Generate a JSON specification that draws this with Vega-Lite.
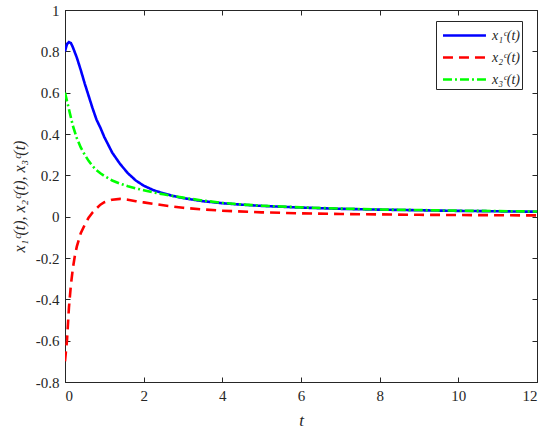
{
  "$schema": "https://vega.github.io/schema/vega-lite/v6.json",
  "width": 472,
  "height": 372,
  "autosize": {"type": "none"},
  "padding": {"left": 65, "top": 10, "right": 13, "bottom": 48},
  "background": "white",
  "data": {
    "values": [
      {"t": 0, "v": 0.8, "s": "x₁ᶜ(t)"},
      {"t": 0.05, "v": 0.835, "s": "x₁ᶜ(t)"},
      {"t": 0.1, "v": 0.845, "s": "x₁ᶜ(t)"},
      {"t": 0.15, "v": 0.84, "s": "x₁ᶜ(t)"},
      {"t": 0.2, "v": 0.82, "s": "x₁ᶜ(t)"},
      {"t": 0.3, "v": 0.77, "s": "x₁ᶜ(t)"},
      {"t": 0.4, "v": 0.71, "s": "x₁ᶜ(t)"},
      {"t": 0.5, "v": 0.645, "s": "x₁ᶜ(t)"},
      {"t": 0.6, "v": 0.585, "s": "x₁ᶜ(t)"},
      {"t": 0.7, "v": 0.525, "s": "x₁ᶜ(t)"},
      {"t": 0.8, "v": 0.47, "s": "x₁ᶜ(t)"},
      {"t": 0.9, "v": 0.43, "s": "x₁ᶜ(t)"},
      {"t": 1.0, "v": 0.385, "s": "x₁ᶜ(t)"},
      {"t": 1.2, "v": 0.31, "s": "x₁ᶜ(t)"},
      {"t": 1.4, "v": 0.255, "s": "x₁ᶜ(t)"},
      {"t": 1.6, "v": 0.21, "s": "x₁ᶜ(t)"},
      {"t": 1.8, "v": 0.175, "s": "x₁ᶜ(t)"},
      {"t": 2.0, "v": 0.15, "s": "x₁ᶜ(t)"},
      {"t": 2.25, "v": 0.128, "s": "x₁ᶜ(t)"},
      {"t": 2.5, "v": 0.113, "s": "x₁ᶜ(t)"},
      {"t": 2.75, "v": 0.1, "s": "x₁ᶜ(t)"},
      {"t": 3, "v": 0.09, "s": "x₁ᶜ(t)"},
      {"t": 3.5, "v": 0.075, "s": "x₁ᶜ(t)"},
      {"t": 4, "v": 0.065, "s": "x₁ᶜ(t)"},
      {"t": 4.5, "v": 0.058, "s": "x₁ᶜ(t)"},
      {"t": 5, "v": 0.052, "s": "x₁ᶜ(t)"},
      {"t": 6, "v": 0.044, "s": "x₁ᶜ(t)"},
      {"t": 7, "v": 0.038, "s": "x₁ᶜ(t)"},
      {"t": 8, "v": 0.034, "s": "x₁ᶜ(t)"},
      {"t": 9, "v": 0.031, "s": "x₁ᶜ(t)"},
      {"t": 10, "v": 0.028, "s": "x₁ᶜ(t)"},
      {"t": 11, "v": 0.026, "s": "x₁ᶜ(t)"},
      {"t": 12, "v": 0.024, "s": "x₁ᶜ(t)"},
      {"t": 0, "v": -0.7, "s": "x₂ᶜ(t)"},
      {"t": 0.05, "v": -0.6, "s": "x₂ᶜ(t)"},
      {"t": 0.1, "v": -0.44, "s": "x₂ᶜ(t)"},
      {"t": 0.15, "v": -0.33, "s": "x₂ᶜ(t)"},
      {"t": 0.2, "v": -0.25, "s": "x₂ᶜ(t)"},
      {"t": 0.25, "v": -0.19, "s": "x₂ᶜ(t)"},
      {"t": 0.3, "v": -0.145, "s": "x₂ᶜ(t)"},
      {"t": 0.4, "v": -0.08, "s": "x₂ᶜ(t)"},
      {"t": 0.5, "v": -0.04, "s": "x₂ᶜ(t)"},
      {"t": 0.6, "v": -0.005, "s": "x₂ᶜ(t)"},
      {"t": 0.7, "v": 0.02, "s": "x₂ᶜ(t)"},
      {"t": 0.8, "v": 0.04, "s": "x₂ᶜ(t)"},
      {"t": 0.9, "v": 0.058, "s": "x₂ᶜ(t)"},
      {"t": 1.0, "v": 0.07, "s": "x₂ᶜ(t)"},
      {"t": 1.2, "v": 0.082, "s": "x₂ᶜ(t)"},
      {"t": 1.4, "v": 0.086, "s": "x₂ᶜ(t)"},
      {"t": 1.6, "v": 0.082, "s": "x₂ᶜ(t)"},
      {"t": 1.8, "v": 0.075, "s": "x₂ᶜ(t)"},
      {"t": 2.0, "v": 0.069, "s": "x₂ᶜ(t)"},
      {"t": 2.5, "v": 0.055, "s": "x₂ᶜ(t)"},
      {"t": 3, "v": 0.043, "s": "x₂ᶜ(t)"},
      {"t": 3.5, "v": 0.035, "s": "x₂ᶜ(t)"},
      {"t": 4, "v": 0.029, "s": "x₂ᶜ(t)"},
      {"t": 5, "v": 0.021, "s": "x₂ᶜ(t)"},
      {"t": 6, "v": 0.016, "s": "x₂ᶜ(t)"},
      {"t": 7, "v": 0.013, "s": "x₂ᶜ(t)"},
      {"t": 8, "v": 0.011, "s": "x₂ᶜ(t)"},
      {"t": 9, "v": 0.009, "s": "x₂ᶜ(t)"},
      {"t": 10, "v": 0.008, "s": "x₂ᶜ(t)"},
      {"t": 11, "v": 0.007, "s": "x₂ᶜ(t)"},
      {"t": 12, "v": 0.006, "s": "x₂ᶜ(t)"},
      {"t": 0, "v": 0.6, "s": "x₃ᶜ(t)"},
      {"t": 0.05, "v": 0.56, "s": "x₃ᶜ(t)"},
      {"t": 0.1, "v": 0.52, "s": "x₃ᶜ(t)"},
      {"t": 0.15, "v": 0.48, "s": "x₃ᶜ(t)"},
      {"t": 0.2, "v": 0.44, "s": "x₃ᶜ(t)"},
      {"t": 0.3, "v": 0.38, "s": "x₃ᶜ(t)"},
      {"t": 0.4, "v": 0.335, "s": "x₃ᶜ(t)"},
      {"t": 0.5, "v": 0.3, "s": "x₃ᶜ(t)"},
      {"t": 0.6, "v": 0.27, "s": "x₃ᶜ(t)"},
      {"t": 0.7, "v": 0.245, "s": "x₃ᶜ(t)"},
      {"t": 0.8, "v": 0.225, "s": "x₃ᶜ(t)"},
      {"t": 0.9, "v": 0.21, "s": "x₃ᶜ(t)"},
      {"t": 1.0, "v": 0.197, "s": "x₃ᶜ(t)"},
      {"t": 1.2, "v": 0.175, "s": "x₃ᶜ(t)"},
      {"t": 1.4, "v": 0.16, "s": "x₃ᶜ(t)"},
      {"t": 1.6, "v": 0.147, "s": "x₃ᶜ(t)"},
      {"t": 1.8, "v": 0.137, "s": "x₃ᶜ(t)"},
      {"t": 2.0, "v": 0.128, "s": "x₃ᶜ(t)"},
      {"t": 2.25, "v": 0.117, "s": "x₃ᶜ(t)"},
      {"t": 2.5, "v": 0.108, "s": "x₃ᶜ(t)"},
      {"t": 2.75, "v": 0.1, "s": "x₃ᶜ(t)"},
      {"t": 3, "v": 0.092, "s": "x₃ᶜ(t)"},
      {"t": 3.5, "v": 0.078, "s": "x₃ᶜ(t)"},
      {"t": 4, "v": 0.067, "s": "x₃ᶜ(t)"},
      {"t": 4.5, "v": 0.059, "s": "x₃ᶜ(t)"},
      {"t": 5, "v": 0.053, "s": "x₃ᶜ(t)"},
      {"t": 6, "v": 0.045, "s": "x₃ᶜ(t)"},
      {"t": 7, "v": 0.039, "s": "x₃ᶜ(t)"},
      {"t": 8, "v": 0.035, "s": "x₃ᶜ(t)"},
      {"t": 9, "v": 0.032, "s": "x₃ᶜ(t)"},
      {"t": 10, "v": 0.029, "s": "x₃ᶜ(t)"},
      {"t": 11, "v": 0.027, "s": "x₃ᶜ(t)"},
      {"t": 12, "v": 0.025, "s": "x₃ᶜ(t)"}
    ]
  },
  "layer": [
    {
      "mark": {"type": "line", "opacity": 0},
      "encoding": {
        "x": {"field": "t", "type": "quantitative", "scale": {"domain": [0, 12], "nice": false},
          "axis": {"orient": "top", "labels": false, "title": null, "values": [0, 2, 4, 6, 8, 10, 12], "grid": false}},
        "y": {"field": "v", "type": "quantitative", "scale": {"domain": [-0.8, 1], "nice": false},
          "axis": {"orient": "right", "labels": false, "title": null, "values": [-0.8, -0.6, -0.4, -0.2, 0, 0.2, 0.4, 0.6, 0.8, 1], "grid": false}},
        "detail": {"field": "s"}
      }
    },
    {
      "mark": {"type": "line", "strokeWidth": 2.6, "clip": true},
      "encoding": {
        "x": {"field": "t", "type": "quantitative",
          "axis": {"orient": "bottom", "title": "t", "values": [0, 2, 4, 6, 8, 10, 12], "grid": false,
            "labelExpr": "'' + datum.value", "labelPadding": 11, "titlePadding": 9}},
        "y": {"field": "v", "type": "quantitative",
          "axis": {"orient": "left", "title": "x₁ᶜ(t), x₂ᶜ(t), x₃ᶜ(t)", "values": [-0.8, -0.6, -0.4, -0.2, 0, 0.2, 0.4, 0.6, 0.8, 1], "grid": false,
            "labelExpr": "'' + datum.value", "labelPadding": 11, "titlePadding": 8, "titleFontSize": 16}},
        "color": {"field": "s", "type": "nominal",
          "scale": {"domain": ["x₁ᶜ(t)", "x₂ᶜ(t)", "x₃ᶜ(t)"], "range": ["#0000ff", "#ff0000", "#00ff00"]},
          "legend": {"title": null}},
        "strokeDash": {"field": "s", "type": "nominal",
          "scale": {"domain": ["x₁ᶜ(t)", "x₂ᶜ(t)", "x₃ᶜ(t)"], "range": [[1, 0], [10, 6], [9, 3, 2, 3]]},
          "legend": {"title": null}}
      }
    }
  ],
  "resolve": {"axis": {"x": "independent", "y": "independent"}},
  "config": {
    "view": {"stroke": "#262626", "strokeWidth": 1},
    "font": "Liberation Serif",
    "axis": {
      "domainColor": "#262626",
      "domainWidth": 1,
      "tickColor": "#262626",
      "tickSize": -5,
      "tickWidth": 1,
      "labelColor": "#262626",
      "labelFont": "Liberation Serif",
      "labelFontSize": 15,
      "titleFont": "Liberation Serif",
      "titleFontStyle": "italic",
      "titleFontWeight": "normal",
      "titleFontSize": 17,
      "titleColor": "#262626"
    },
    "legend": {
      "orient": "none",
      "legendX": 371,
      "legendY": 11,
      "fillColor": "white",
      "strokeColor": "#262626",
      "padding": 2,
      "symbolType": "M-0.7,0H3.3",
      "symbolStrokeWidth": 2.6,
      "symbolSize": 462,
      "symbolFillColor": "transparent",
      "labelFont": "Liberation Serif",
      "labelFontStyle": "italic",
      "labelFontSize": 14,
      "labelColor": "#262626",
      "rowPadding": 2,
      "labelOffset": 29
    }
  }
}
